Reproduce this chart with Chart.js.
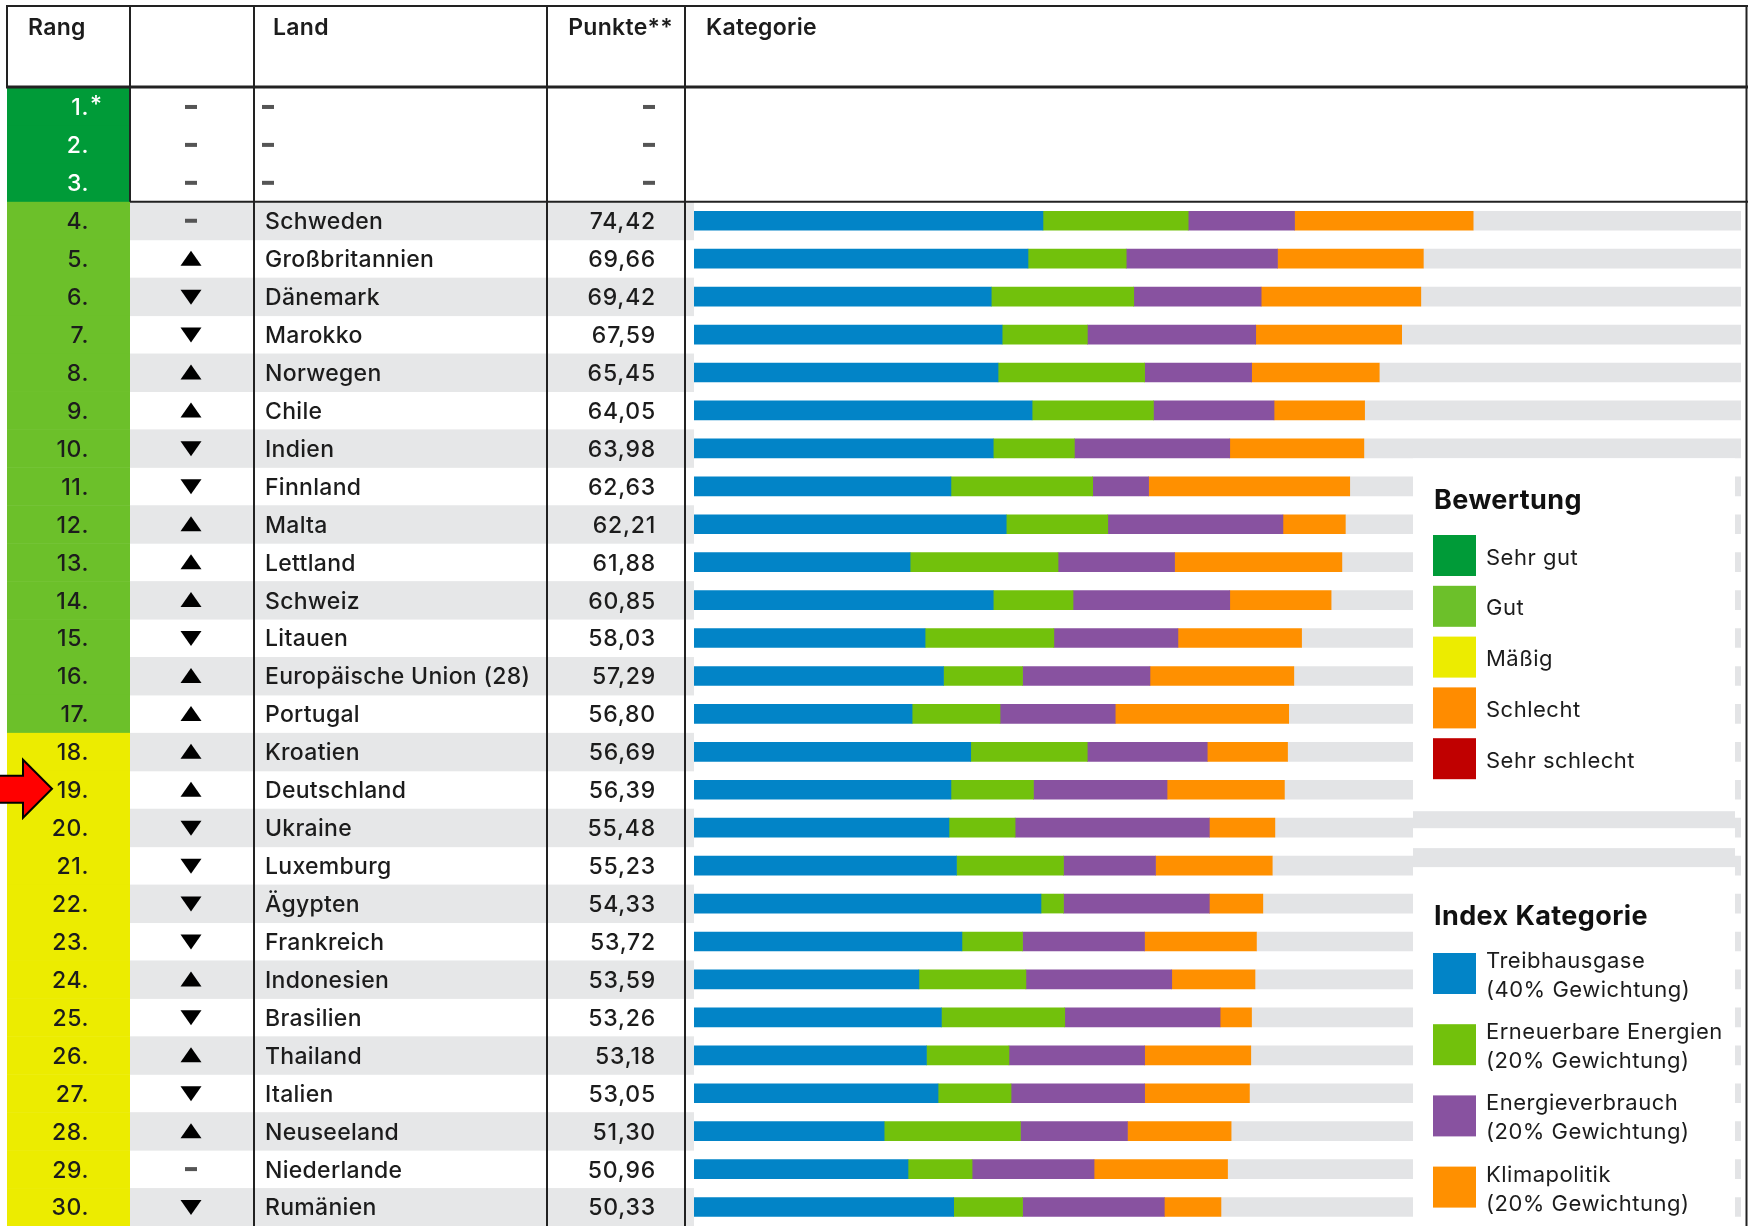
<!DOCTYPE html>
<html lang="de">
<head>
<meta charset="utf-8">
<title>Klimaschutz-Index – Rangliste</title>
<script src="https://cdn.jsdelivr.net/npm/chart.js@4"></script>
<style>
  html, body { margin: 0; padding: 0; background: #fff; }
  #wrap { width: 1748px; height: 1226px; }
</style>
</head>
<body>
<div id="wrap"><canvas id="chart" width="1748" height="1226"></canvas></div>
<script>
// --- data ---
const ranks = ["1.", "2.", "3.", "4.", "5.", "6.", "7.", "8.", "9.", "10.",
  "11.", "12.", "13.", "14.", "15.", "16.", "17.", "18.", "19.", "20.",
  "21.", "22.", "23.", "24.", "25.", "26.", "27.", "28.", "29.", "30."];

const countries = [null, null, null, "Schweden", "Großbritannien", "Dänemark", "Marokko",
  "Norwegen", "Chile", "Indien", "Finnland", "Malta", "Lettland", "Schweiz", "Litauen",
  "Europäische Union (28)", "Portugal", "Kroatien", "Deutschland", "Ukraine", "Luxemburg",
  "Ägypten", "Frankreich", "Indonesien", "Brasilien", "Thailand", "Italien", "Neuseeland",
  "Niederlande", "Rumänien"];

// "up", "down", "same"
const trends = ["same", "same", "same", "same", "up", "down", "down", "up", "up", "down",
  "down", "up", "up", "up", "down", "up", "up", "up", "up", "down",
  "down", "down", "down", "up", "down", "up", "down", "up", "same", "down"];

const points = [null, null, null, 74.42, 69.66, 69.42, 67.59, 65.45, 64.05, 63.98,
  62.63, 62.21, 61.88, 60.85, 58.03, 57.29, 56.80, 56.69, 56.39, 55.48,
  55.23, 54.33, 53.72, 53.59, 53.26, 53.18, 53.05, 51.30, 50.96, 50.33];

// index into ratingLabels
const ratings = [0, 0, 0, 1, 1, 1, 1, 1, 1, 1, 1, 1, 1, 1, 1, 1, 1,
  2, 2, 2, 2, 2, 2, 2, 2, 2, 2, 2, 2, 2];

const ghg = [null, null, null, 33.33, 31.90, 28.39, 29.43, 29.04, 32.29, 28.58,
  24.54, 29.82, 20.64, 28.58, 22.07, 23.83, 20.83, 26.43, 24.54, 24.35,
  25.07, 33.14, 25.59, 21.48, 23.63, 22.20, 23.31, 18.16, 20.44, 24.80];
const renewables = [null, null, null, 13.87, 9.38, 13.61, 8.14, 14.00, 11.59, 7.75,
  13.54, 9.70, 14.13, 7.62, 12.30, 7.55, 8.40, 11.13, 7.88, 6.32,
  10.22, 2.15, 5.79, 10.22, 11.78, 7.88, 6.97, 13.02, 6.12, 6.58];
const energyUse = [null, null, null, 10.16, 14.45, 12.17, 16.08, 10.22, 11.52, 14.84,
  5.34, 16.73, 11.13, 14.97, 11.85, 12.17, 11.00, 11.46, 12.76, 18.55,
  8.79, 13.93, 11.65, 13.93, 14.84, 12.96, 12.76, 10.22, 11.65, 13.54];
const policy = [null, null, null, 17.06, 13.93, 15.25, 13.94, 12.19, 8.65, 12.81,
  19.21, 5.96, 15.98, 9.68, 11.81, 13.74, 16.57, 7.67, 11.21, 6.26,
  11.15, 5.11, 10.69, 7.95, 3.00, 10.14, 10.01, 9.90, 12.75, 5.41];

const ratingLabels = ["Sehr gut", "Gut", "Mäßig", "Schlecht", "Sehr schlecht"];
const ratingColors = ["#009b38", "#6cc02a", "#ecec00", "#ff8c00", "#c00000"];

const categoryLabels = ["Treibhausgase", "Erneuerbare Energien", "Energieverbrauch", "Klimapolitik"];
const categoryWeights = ["(40% Gewichtung)", "(20% Gewichtung)", "(20% Gewichtung)", "(20% Gewichtung)"];
const categoryColors = ["#0284c7", "#72c10c", "#8852a0", "#ff9000"];

const headers = ["Rang", "Land", "Punkte**", "Kategorie"];
const highlight = "Deutschland";

// --- drawing ---
const FONT = '"Inter", "Noto Sans", sans-serif';
const TEXT = "#1c1c1c";
const TRACK = "#e3e4e6";
const BAR_H = 19;

// remainder of the 100-point track
const rest = points.map(p => p == null ? null : 100 - p);

function dash(ctx, x, cy) {
  ctx.fillStyle = "#555";
  ctx.fillRect(x, cy - 2, 12, 4);
}

const tablePlugin = {
  id: "table",
  beforeDatasetsDraw(chart) {
    const ctx = chart.ctx;
    const y = chart.scales.y;
    const rowH = (y.bottom - y.top) / ranks.length;
    ctx.save();

    ranks.forEach((r, i) => {
      const cy = y.getPixelForValue(i);
      const top = cy - rowH / 2;
      const ty = cy + 1.5;
      // zebra shading
      if (i >= 3 && i % 2 === 1) {
        ctx.fillStyle = "#e6e7e8";
        ctx.fillRect(130, top, 564, rowH + 0.5);
      }
      // rank cell
      ctx.fillStyle = ratingColors[ratings[i]];
      ctx.fillRect(7, top, 123, rowH + 0.5);

      ctx.font = "500 23px " + FONT;
      ctx.letterSpacing = "0.6px";
      ctx.textBaseline = "middle";
      ctx.textAlign = "right";
      ctx.fillStyle = ratings[i] === 0 ? "#fff" : TEXT;
      ctx.fillText(r, 89, ty);
      if (i === 0) {
        ctx.textAlign = "left";
        ctx.fillText("*", 90, ty - 3);
      }

      // trend marker
      const tx = 191;
      ctx.fillStyle = "#000";
      if (trends[i] === "up") {
        ctx.beginPath();
        ctx.moveTo(tx - 10.5, cy + 7);
        ctx.lineTo(tx + 10.5, cy + 7);
        ctx.lineTo(tx, cy - 8);
        ctx.closePath();
        ctx.fill();
      } else if (trends[i] === "down") {
        ctx.beginPath();
        ctx.moveTo(tx - 10.5, cy - 7);
        ctx.lineTo(tx + 10.5, cy - 7);
        ctx.lineTo(tx, cy + 8);
        ctx.closePath();
        ctx.fill();
      } else {
        dash(ctx, tx - 6, cy);
      }

      // country + points
      ctx.letterSpacing = "0.3px";
      ctx.fillStyle = TEXT;
      if (countries[i]) {
        ctx.textAlign = "left";
        ctx.fillText(countries[i], 265, ty);
      } else {
        dash(ctx, 262, cy);
      }
      if (points[i] != null) {
        ctx.textAlign = "right";
        ctx.fillStyle = TEXT;
        ctx.letterSpacing = "0.8px";
        ctx.fillText(points[i].toFixed(2).replace(".", ","), 656, ty);
      } else {
        dash(ctx, 643, cy);
      }
    });

    // header
    ctx.font = "600 23px " + FONT;
    ctx.letterSpacing = "0.3px";
    ctx.fillStyle = TEXT;
    ctx.textBaseline = "middle";
    ctx.textAlign = "left";
    ctx.fillText(headers[0], 28, 28);
    ctx.fillText(headers[1], 273, 28);
    ctx.textAlign = "right";
    ctx.fillText(headers[2], 673, 28);
    ctx.textAlign = "left";
    ctx.fillText(headers[3], 706, 28);
    ctx.restore();
  },

  afterDatasetsDraw(chart) {
    const ctx = chart.ctx;
    const y = chart.scales.y;
    const rowH = (y.bottom - y.top) / ranks.length;
    const H = chart.height;
    ctx.save();

    // legend panel laid over the grey track, with two stray track bands
    const barTop = i => y.getPixelForValue(i) - BAR_H / 2;
    const barBot = i => y.getPixelForValue(i) + BAR_H / 2;
    ctx.fillStyle = "#fff";
    ctx.fillRect(1413, barBot(9) + 0.5, 322, H - barBot(9));
    ctx.fillStyle = TRACK;
    ctx.fillRect(1413, barTop(19) - 7, 322, BAR_H - 2);
    ctx.fillRect(1413, barTop(20) - 8, 322, BAR_H);

    // Bewertung
    ctx.fillStyle = "#111";
    ctx.font = "700 27px " + FONT;
    ctx.letterSpacing = "0.4px";
    ctx.textAlign = "left";
    ctx.textBaseline = "alphabetic";
    ctx.fillText("Bewertung", 1434, 509);
    ratingLabels.forEach((lab, k) => {
      const top = 535 + k * 50.8;
      ctx.fillStyle = ratingColors[k];
      ctx.fillRect(1433, top, 43, 41);
      ctx.fillStyle = TEXT;
      ctx.font = "400 22px " + FONT;
      ctx.letterSpacing = "0.5px";
      ctx.textBaseline = "middle";
      ctx.fillText(lab, 1486, top + 23);
      ctx.textBaseline = "alphabetic";
    });

    // Index Kategorie
    ctx.fillStyle = "#111";
    ctx.font = "700 27px " + FONT;
    ctx.letterSpacing = "0.4px";
    ctx.fillText("Index Kategorie", 1434, 925);
    categoryLabels.forEach((lab, k) => {
      const top = 953 + k * 71.2;
      ctx.fillStyle = categoryColors[k];
      ctx.fillRect(1433, top, 43, 41);
      ctx.fillStyle = TEXT;
      ctx.font = "400 22px " + FONT;
      ctx.letterSpacing = "0.5px";
      ctx.fillText(lab, 1486, top + 15);
      ctx.fillText(categoryWeights[k], 1486, top + 44);
    });
    ctx.letterSpacing = "0px";

    // grid lines
    ctx.strokeStyle = "#222";
    const vline = (x, y0, y1, w) => {
      ctx.lineWidth = w;
      ctx.beginPath(); ctx.moveTo(x, y0); ctx.lineTo(x, y1); ctx.stroke();
    };
    const hline = (y0, x0, x1, w) => {
      ctx.lineWidth = w;
      ctx.beginPath(); ctx.moveTo(x0, y0); ctx.lineTo(x1, y0); ctx.stroke();
    };
    const sep = y.top + 3 * rowH;
    hline(6, 6, 1748, 2);
    hline(y.top - 1, 6, 1748, 3);
    hline(sep, 130, 1748, 2);
    vline(7, 5, y.top, 2);
    vline(130, 5, sep, 2);
    vline(254, 5, H, 2);
    vline(547, 5, H, 2);
    vline(685, 5, H, 2);
    vline(1746.5, 5, H, 2);

    // red arrow at the highlighted country
    const hi = countries.indexOf(highlight);
    const cy = y.getPixelForValue(hi);
    ctx.beginPath();
    ctx.moveTo(-2, cy - 14);
    ctx.lineTo(23, cy - 14);
    ctx.lineTo(23, cy - 30);
    ctx.lineTo(52, cy - 1);
    ctx.lineTo(23, cy + 28);
    ctx.lineTo(23, cy + 13);
    ctx.lineTo(-2, cy + 13);
    ctx.closePath();
    ctx.fillStyle = "#ff0000";
    ctx.fill();
    ctx.lineWidth = 2;
    ctx.strokeStyle = "#000";
    ctx.stroke();
    ctx.restore();
  }
};

const barSet = (label, data, color) => ({
  label, data, backgroundColor: color, borderWidth: 0, barThickness: BAR_H
});

new Chart(document.getElementById("chart"), {
  type: "bar",
  data: {
    labels: ranks,
    datasets: [
      barSet(categoryLabels[0], ghg, categoryColors[0]),
      barSet(categoryLabels[1], renewables, categoryColors[1]),
      barSet(categoryLabels[2], energyUse, categoryColors[2]),
      barSet(categoryLabels[3], policy, categoryColors[3]),
      barSet("Rest", rest, TRACK)
    ]
  },
  options: {
    indexAxis: "y",
    responsive: false,
    animation: false,
    layout: { padding: { left: 694, right: 7, top: 88, bottom: 0 } },
    plugins: { legend: { display: false }, tooltip: { enabled: false } },
    scales: {
      x: { stacked: true, min: 0, max: 100, display: false },
      y: { stacked: true, display: false }
    }
  },
  plugins: [tablePlugin]
});
</script>
</body>
</html>
